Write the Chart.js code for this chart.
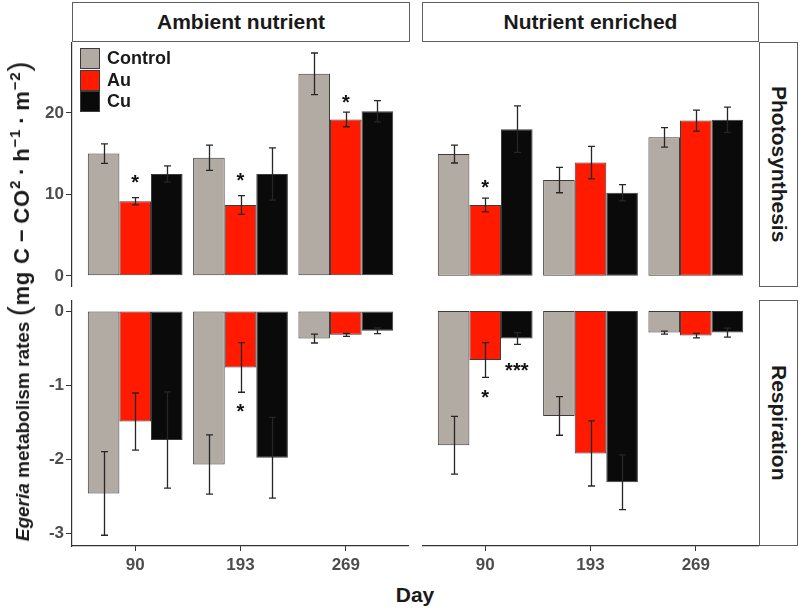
<!DOCTYPE html>
<html>
<head>
<meta charset="utf-8">
<script src="https://cdn.jsdelivr.net/npm/chart.js@4.4.1/dist/chart.umd.min.js"></script>
<style>
  html, body { margin:0; padding:0; background:#fff; }
  body { width:800px; height:608px; position:relative; overflow:hidden;
         font-family:"Liberation Sans", Arial, Helvetica, sans-serif; }
  .cv { position:absolute; }
  .strip { position:absolute; box-sizing:border-box; border:1px solid #5e5e5e; background:#fff;
           display:flex; align-items:center; justify-content:center;
           font-weight:bold; font-size:21px; color:#1a1a1a; }
  .vstrip span { writing-mode:vertical-rl; }
  #ytitle { position:absolute; left:19px; top:301px; transform:translate(-50%,-50%) rotate(-90deg);
            white-space:nowrap; font-weight:bold; font-size:19px; color:#1a1a1a; }
  #ytitle .units { font-size:22px; letter-spacing:0.8px; }
  #ytitle sup { font-size:15px; vertical-align:0.6em; line-height:0; }
  #ytitle .paren { font-size:30px; font-weight:normal; }
  #ytitle .op { margin:0 5px; }
  #xtitle { position:absolute; left:415px; top:595px; transform:translate(-50%,-50%);
            font-weight:bold; font-size:21px; color:#1a1a1a; }
  #legend { position:absolute; left:80px; top:48px; }
  .lrow { height:21.5px; display:flex; align-items:center; }
  .lkey { width:20px; height:21px; box-sizing:border-box; border:1px solid #3c3c3c; margin-right:7px; }
  .ltxt { font-weight:bold; font-size:18px; color:#1a1a1a; }
</style>
</head>
<body>
<div class="strip" style="left:72px;top:2px;width:338px;height:40px;">Ambient nutrient</div>
<div class="strip" style="left:422px;top:2px;width:337px;height:40px;">Nutrient enriched</div>
<div class="strip vstrip" style="left:759px;top:42px;width:39px;height:245px;"><span>Photosynthesis</span></div>
<div class="strip vstrip" style="left:759px;top:300px;width:39px;height:246px;"><span>Respiration</span></div>

<canvas id="c0" class="cv" width="379" height="245" style="left:30px;top:42px;"></canvas>
<canvas id="c1" class="cv" width="337" height="245" style="left:422px;top:42px;"></canvas>
<canvas id="c2" class="cv" width="379" height="276" style="left:30px;top:300px;"></canvas>
<canvas id="c3" class="cv" width="337" height="276" style="left:422px;top:300px;"></canvas>

<div id="ytitle"><i>Egeria</i> metabolism rates <span class="units"><span class="paren">(</span>mg C<span class="op">&#8722;</span>CO<sup>2</sup><span class="op">&#183;</span>h<sup>&#8722;1</sup><span class="op">&#183;</span>m<sup>&#8722;2</sup><span class="paren">)</span></span></div>
<div id="xtitle">Day</div>
<div id="legend"></div>

<script>
// ---------- data ----------
const days = ['90', '193', '269'];
const treatments = ['Control', 'Au', 'Cu'];
const treatmentColors = ['#b2aba3', '#ff1a00', '#0a0a0a'];

// Photosynthesis – ambient nutrient
const photoAmbControl   = [15.0, 14.5, 24.8];
const photoAmbAu        = [9.15, 8.7, 19.2];
const photoAmbCu        = [12.5, 12.5, 20.2];
const photoAmbControlSE = [1.2, 1.55, 2.55];
const photoAmbAuSE      = [0.45, 1.15, 0.9];
const photoAmbCuSE      = [1.0, 3.2, 1.3];

// Photosynthesis – nutrient enriched
const photoEnrControl   = [14.95, 11.75, 17.0];
const photoEnrAu        = [8.7, 13.9, 19.05];
const photoEnrCu        = [18.0, 10.2, 19.15];
const photoEnrControlSE = [1.1, 1.55, 1.2];
const photoEnrAuSE      = [0.85, 2.0, 1.3];
const photoEnrCuSE      = [2.85, 1.0, 1.55];

// Respiration – ambient nutrient
const respAmbControl    = [-2.46, -2.07, -0.37];
const respAmbAu         = [-1.49, -0.76, -0.32];
const respAmbCu         = [-1.74, -1.98, -0.265];
const respAmbControlSE  = [0.565, 0.40, 0.06];
const respAmbAuSE       = [0.385, 0.335, 0.02];
const respAmbCuSE       = [0.65, 0.545, 0.04];

// Respiration – nutrient enriched
const respEnrControl    = [-1.81, -1.415, -0.29];
const respEnrAu         = [-0.66, -1.92, -0.33];
const respEnrCu         = [-0.37, -2.31, -0.29];
const respEnrControlSE  = [0.39, 0.26, 0.02];
const respEnrAuSE       = [0.235, 0.44, 0.03];
const respEnrCuSE       = [0.08, 0.37, 0.06];

// y-axis ticks
const photoTicks = [0, 10, 20];
const respTicks  = [0, -1, -2, -3];

// significance labels: day index, treatment index, label, value where the label sits
const photoAmbSig = [[0, 1, '*', 11.95], [1, 1, '*', 12.2], [2, 1, '*', 21.8]];
const photoEnrSig = [[0, 1, '*', 11.4]];
const respAmbSig  = [[1, 1, '*', -1.29]];
const respEnrSig  = [[0, 1, '*', -1.11], [0, 2, '***', -0.74]];

// ---------- legend ----------
const legend = document.getElementById('legend');
treatments.forEach((t, k) => {
  const row = document.createElement('div'); row.className = 'lrow';
  const key = document.createElement('div'); key.className = 'lkey'; key.style.background = treatmentColors[k];
  const txt = document.createElement('div'); txt.className = 'ltxt'; txt.textContent = t;
  row.appendChild(key); row.appendChild(txt); legend.appendChild(row);
});

// ---------- plugin: error bars + significance labels ----------
const errPlugin = {
  id: 'errbars',
  afterDatasetsDraw(chart, args, opts) {
    const ctx = chart.ctx, ys = chart.scales.y;
    ctx.save();
    ctx.strokeStyle = '#262626'; ctx.lineWidth = 1.3;
    chart.data.datasets.forEach((ds, di) => {
      const meta = chart.getDatasetMeta(di);
      meta.data.forEach((bar, i) => {
        const v = ds.data[i].y, e = ds.errors[i];
        const x = Math.round(bar.x) + 0.5;
        const y1 = ys.getPixelForValue(v + e), y2 = ys.getPixelForValue(v - e);
        ctx.beginPath();
        ctx.moveTo(x, y1); ctx.lineTo(x, y2);
        ctx.moveTo(x - 3.5, y1); ctx.lineTo(x + 3.5, y1);
        ctx.moveTo(x - 3.5, y2); ctx.lineTo(x + 3.5, y2);
        ctx.stroke();
      });
    });
    ctx.fillStyle = '#111';
    ctx.font = 'bold 20px "Liberation Sans", Arial, sans-serif';
    ctx.textAlign = 'center'; ctx.textBaseline = 'alphabetic';
    (opts.notes || []).forEach(([d, t, label, val]) => {
      const bar = chart.getDatasetMeta(t).data[d];
      ctx.fillText(label, bar.x, ys.getPixelForValue(val) + 11);
    });
    ctx.restore();
  }
};

// ---------- panels ----------
function makePanel(id, opt) {
  const datasets = treatments.map((t, k) => ({
    label: t,
    data: opt.means[k].map((v, i) => ({ x: i + 1, y: v })),
    errors: opt.errs[k],
    backgroundColor: treatmentColors[k],
    borderColor: '#3c3c3c',
    borderWidth: 1,
    borderSkipped: false,
    categoryPercentage: 0.9,
    barPercentage: 1.0
  }));
  new Chart(document.getElementById(id), {
    type: 'bar',
    data: { datasets },
    plugins: [errPlugin],
    options: {
      responsive: false, animation: false,
      layout: { padding: 0 },
      plugins: { legend: { display: false }, tooltip: { enabled: false }, errbars: { notes: opt.notes } },
      scales: {
        x: {
          type: 'linear', min: 0.4, max: 3.6, display: opt.xAxis, offset: false,
          afterBuildTicks: s => { s.ticks = days.map((d, i) => ({ value: i + 1 })); },
          afterFit: s => { s.height = opt.xAxis ? 30 : 0; s.paddingLeft = 0; s.paddingRight = 0; },
          grid: { drawOnChartArea: false, offset: false, tickLength: 5, color: '#333', lineWidth: 1 },
          border: { display: true, color: '#333', width: 1.2 },
          ticks: { callback: v => days[Math.round(v) - 1], font: { size: 17, weight: 'bold', family: '"Liberation Sans", Arial' },
                   color: '#4d4d4d', padding: 4, maxRotation: 0, autoSkip: false }
        },
        y: {
          type: 'linear', min: opt.ymin, max: opt.ymax, display: opt.yAxis,
          afterBuildTicks: s => { s.ticks = opt.yticks.map(v => ({ value: v })); },
          afterFit: s => { s.width = opt.yAxis ? 42 : 0; s.paddingTop = 0; s.paddingBottom = 0; },
          grid: { drawOnChartArea: false, tickLength: 6, color: '#333', lineWidth: 1 },
          border: { display: true, color: '#333', width: 1.2 },
          ticks: { callback: v => String(v), font: { size: 17, weight: 'bold', family: '"Liberation Sans", Arial' },
                   color: '#4d4d4d', padding: 2 }
        }
      }
    }
  });
}

makePanel('c0', { means: [photoAmbControl, photoAmbAu, photoAmbCu], errs: [photoAmbControlSE, photoAmbAuSE, photoAmbCuSE],
  notes: photoAmbSig, ymin: -1.37, ymax: 28.7, yticks: photoTicks, xAxis: false, yAxis: true });
makePanel('c1', { means: [photoEnrControl, photoEnrAu, photoEnrCu], errs: [photoEnrControlSE, photoEnrAuSE, photoEnrCuSE],
  notes: photoEnrSig, ymin: -1.37, ymax: 28.7, yticks: photoTicks, xAxis: false, yAxis: false });
makePanel('c2', { means: [respAmbControl, respAmbAu, respAmbCu], errs: [respAmbControlSE, respAmbAuSE, respAmbCuSE],
  notes: respAmbSig, ymin: -3.17, ymax: 0.15, yticks: respTicks, xAxis: true, yAxis: true });
makePanel('c3', { means: [respEnrControl, respEnrAu, respEnrCu], errs: [respEnrControlSE, respEnrAuSE, respEnrCuSE],
  notes: respEnrSig, ymin: -3.17, ymax: 0.15, yticks: respTicks, xAxis: true, yAxis: false });
</script>
</body>
</html>
